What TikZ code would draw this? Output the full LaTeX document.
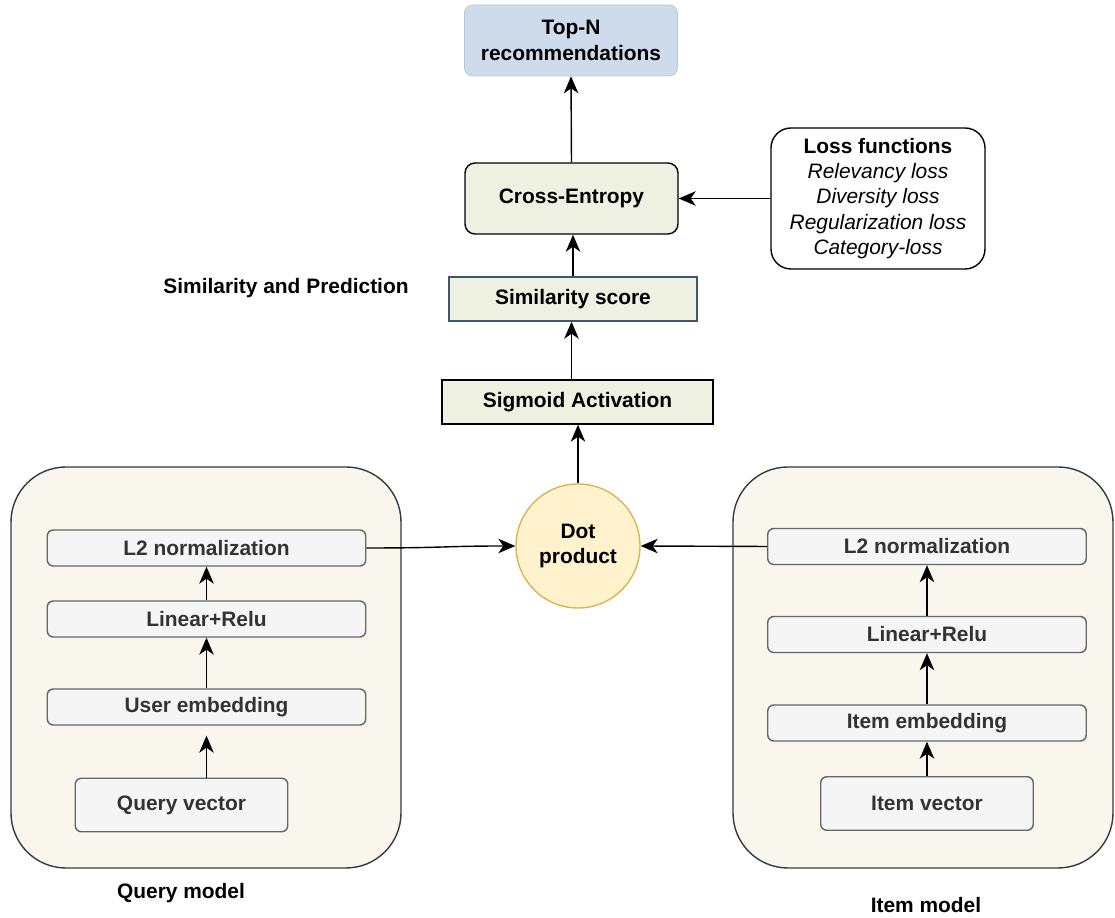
\documentclass[tikz,border=0pt]{standalone}
\usepackage{fontspec}
\setmainfont{Liberation Sans}
\usetikzlibrary{arrows.meta}

\definecolor{topfill}{HTML}{CDDBEA}
\definecolor{topline}{HTML}{B8C8D9}
\definecolor{stagefill}{HTML}{EEF0E1}
\definecolor{scoreline}{HTML}{40566A}
\definecolor{modelfill}{HTML}{F9F7ED}
\definecolor{modelline}{HTML}{36393D}
\definecolor{layerfill}{HTML}{F5F5F5}
\definecolor{layerline}{HTML}{666666}
\definecolor{dotfill}{HTML}{FFF2CC}
\definecolor{dotline}{HTML}{D6B656}

\begin{document}
\begin{tikzpicture}
	[
		font=\fontsize{11.9}{14.5}\selectfont\bfseries,
		model/.style={draw=modelline, fill=modelfill, rounded corners=1.1cm, line width=0.8pt, minimum height=8.02cm},
		layer/.style={draw=layerline, fill=layerfill, rounded corners=0.12cm, line width=0.8pt, minimum width=6.37cm, minimum height=0.72cm, inner sep=0pt, text=black!80},
		vector/.style={layer, minimum width=4.25cm, minimum height=1.07cm},
		stage/.style={draw=black, fill=stagefill, line width=0.8pt, minimum height=0.88cm, inner sep=0pt},
		flow/.style={draw=black, line width=0.8pt, -{Stealth[length=3.4mm, width=2.9mm, inset=1mm]}}
	]

	\useasboundingbox (0, 0) rectangle (22.3, 18.36);

	\node (qmodel)   at (4.12, 5.01) [model, minimum width=7.8cm] {};
	\node (imodel)   at (18.46, 5.01) [model, minimum width=7.6cm] {};

	\node (topn)     at (11.42, 17.55) [draw=topline, fill=topfill, rounded corners=0.16cm, minimum width=4.26cm, minimum height=1.42cm, align=center, inner sep=0pt] {Top-N\\recommendations};
	\node (xent)     at (11.43, 14.39) [draw=black, fill=stagefill, rounded corners=0.2cm, line width=0.8pt, minimum width=4.26cm, minimum height=1.42cm] {Cross-Entropy};
	\node (loss)     at (17.56, 14.39) [draw=black, fill=white, rounded corners=0.4cm, line width=0.8pt, minimum width=4.28cm, minimum height=2.82cm, align=center, inner sep=0pt, font=\fontsize{11.9}{14.3}\selectfont]
		{\textbf{Loss functions}\\ \textit{Relevancy loss}\\ \textit{Diversity loss}\\ \textit{Regularization loss}\\ \textit{Category-loss}};
	\node (score)    at (11.46, 12.38) [stage, draw=scoreline, minimum width=4.96cm] {Similarity score};
	\node (simlabel) at (5.72, 12.6) {Similarity and Prediction};
	\node (sigmoid)  at (11.55, 10.32) [stage, minimum width=5.42cm] {Sigmoid Activation};
	\node (dot)      at (11.56, 7.44) [circle, draw=dotline, fill=dotfill, line width=0.8pt, minimum size=2.48cm, align=center, inner sep=0pt] {Dot\\product};

	\node (qnorm)    at (4.13, 7.40) [layer] {L2 normalization};
	\node (qlin)     at (4.13, 5.98) [layer] {Linear+Relu};
	\node (qemb)     at (4.13, 4.22) [layer] {User embedding};
	\node (qvec)     at (3.63, 2.26) [vector] {Query vector};
	\node (qlabel)   at (3.62, 0.50) {Query model};

	\node (inorm)    at (18.54, 7.43) [layer] {L2 normalization};
	\node (ilin)     at (18.54, 5.67) [layer] {Linear+Relu};
	\node (iemb)     at (18.54, 3.90) [layer] {Item embedding};
	\node (ivec)     at (18.54, 2.29) [vector] {Item vector};
	\node (ilabel)   at (18.52, 0.26) {Item model};

	\draw [flow] (xent.north) -- (topn.south);
	\draw [flow] (loss.west) -- (xent.east);
	\draw [flow] (score.north) -- (score.north |- xent.south);
	\draw [flow] (xent.south |- sigmoid.north) -- (xent.south |- score.south);
	\draw [flow] (dot.north) -- (dot.north |- sigmoid.south);

	\draw [flow] (qnorm.east) .. controls (8.9, 7.40) and (8.9, 7.44) .. (dot.west);
	\draw [flow] (inorm.west) -- (dot.east);

	\draw [flow] (qlin.north) -- (qnorm.south);
	\draw [flow] (qemb.north) -- (qlin.south);
	\draw [flow, shorten >=0.2cm] (qemb.south |- qvec.north) -- (qemb.south);

	\draw [flow] (ilin.north) -- (inorm.south);
	\draw [flow] (iemb.north) -- (ilin.south);
	\draw [flow] (ivec.north) -- (iemb.south);
\end{tikzpicture}
\end{document}
